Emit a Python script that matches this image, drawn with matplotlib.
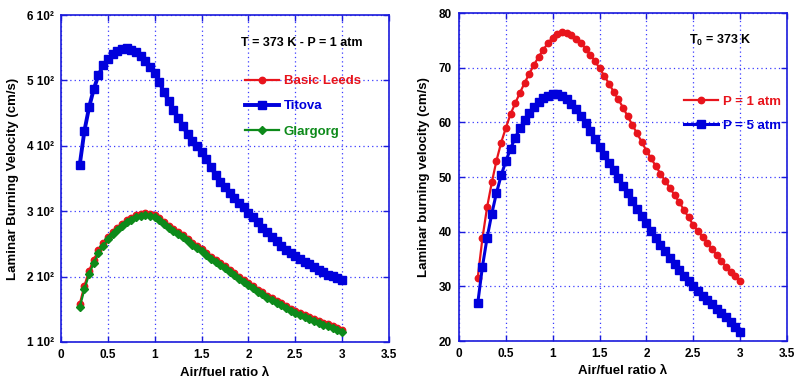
import matplotlib
matplotlib.use("Agg")
import matplotlib.pyplot as plt
import numpy as np

plt.rcParams['font.family'] = ['Liberation Sans', 'DejaVu Sans']
plt.rcParams['font.weight'] = 'bold'
plt.rcParams['mathtext.fontset'] = 'custom'
plt.rcParams['mathtext.rm'] = 'Liberation Sans:bold'
plt.rcParams['mathtext.it'] = 'Liberation Sans:bold'
plt.rcParams['mathtext.bf'] = 'Liberation Sans:bold'

# Air/fuel ratio lambda: 0.20 .. 3.00 step 0.05
lam = [0.20, 0.25, 0.30, 0.35, 0.40, 0.45, 0.50, 0.55, 0.60, 0.65,
       0.70, 0.75, 0.80, 0.85, 0.90, 0.95, 1.00, 1.05, 1.10, 1.15,
       1.20, 1.25, 1.30, 1.35, 1.40, 1.45, 1.50, 1.55, 1.60, 1.65,
       1.70, 1.75, 1.80, 1.85, 1.90, 1.95, 2.00, 2.05, 2.10, 2.15,
       2.20, 2.25, 2.30, 2.35, 2.40, 2.45, 2.50, 2.55, 2.60, 2.65,
       2.70, 2.75, 2.80, 2.85, 2.90, 2.95, 3.00]

# Left panel (T = 373 K, P = 1 atm)
basic_leeds = [158, 186, 209, 226, 240, 251, 261, 268, 275, 281,
               286, 290, 294, 296, 297, 296, 294, 290, 284, 278,
               273, 268, 263, 257, 252, 247, 242, 236, 230, 226,
               221, 216, 210, 205, 200, 195, 190, 185, 180, 176,
               171, 167, 163, 159, 155, 151, 147, 144, 141, 138,
               135, 132, 129, 127, 124, 121, 118]
titova = [371, 423, 459, 487, 508, 523, 532, 540, 545, 548,
          549, 547, 543, 537, 529, 521, 511, 497, 482, 468,
          455, 443, 430, 418, 408, 399, 390, 380, 368, 355,
          345, 337, 328, 320, 313, 306, 298, 291, 283, 275,
          268, 261, 254, 247, 241, 236, 231, 227, 223, 219,
          214, 210, 207, 203, 201, 198, 195]
glargorg = [153, 181, 204, 221, 236, 247, 257, 265, 272, 278,
            283, 287, 291, 293, 294, 293, 291, 287, 281, 275,
            270, 265, 260, 254, 249, 244, 239, 233, 227, 223,
            218, 213, 207, 202, 197, 192, 187, 182, 177, 173,
            168, 164, 160, 156, 152, 148, 144, 141, 138, 135,
            132, 129, 126, 124, 121, 118, 115]

# Right panel (T0 = 373 K)
p1_atm = [31.6, 38.8, 44.5, 49.0, 53.0, 56.3, 59.0, 61.5, 63.5, 65.4,
          67.2, 68.9, 70.5, 72.0, 73.3, 74.5, 75.5, 76.2, 76.5, 76.4,
          76.0, 75.3, 74.5, 73.5, 72.4, 71.2, 69.9, 68.5, 67.1, 65.6,
          64.2, 62.7, 61.1, 59.5, 58.0, 56.4, 54.8, 53.4, 52.0, 50.6,
          49.3, 48.0, 46.7, 45.4, 44.0, 42.6, 41.2, 40.1, 39.0, 37.9,
          36.8, 35.7, 34.6, 33.5, 32.6, 31.8, 31.0]
p5_atm = [26.9, 33.6, 38.9, 43.3, 47.1, 50.3, 52.9, 55.2, 57.2, 58.9,
          60.4, 61.7, 62.8, 63.7, 64.4, 64.9, 65.2, 65.1, 64.8, 64.2,
          63.4, 62.4, 61.2, 59.8, 58.4, 56.9, 55.4, 54.0, 52.6, 51.2,
          49.8, 48.4, 47.0, 45.6, 44.2, 42.8, 41.5, 40.2, 38.9, 37.6,
          36.4, 35.2, 34.0, 32.9, 31.9, 30.9, 30.0, 29.1, 28.3, 27.5,
          26.7, 25.9, 25.1, 24.3, 23.5, 22.6, 21.7]

x_ticks = [0, 0.5, 1, 1.5, 2, 2.5, 3, 3.5]
x_tick_labels = ['0', '0.5', '1', '1.5', '2', '2.5', '3', '3.5']
left_y_ticks = [100, 200, 300, 400, 500, 600]
left_y_labels = ['1 10\u00b2', '2 10\u00b2', '3 10\u00b2', '4 10\u00b2', '5 10\u00b2', '6 10\u00b2']
right_y_ticks = [20, 30, 40, 50, 60, 70, 80]

RED = '#e8141c'
BLUE = '#0000dc'
GREEN = '#0d8a1a'
AXC = '#1a1adc'

W, H = 796, 382
fig = plt.figure(figsize=(W / 100, H / 100), dpi=100)
axL = fig.add_axes([61 / W, 1 - 342 / H, (389 - 61) / W, (342 - 15) / H])
axR = fig.add_axes([459 / W, 1 - 341 / H, (787 - 459) / W, (341 - 13) / H])


def style(ax):
    for s in ax.spines.values():
        s.set_color(AXC)
        s.set_linewidth(1.2)
    ax.grid(True, color='#3a3aff', linestyle=(0, (1, 2.5)), linewidth=0.9)
    ax.set_axisbelow(True)
    ax.tick_params(direction='in', length=4, width=1, color=AXC,
                   labelsize=8.5, top=True, right=True, pad=5)
    for lab in ax.get_xticklabels() + ax.get_yticklabels():
        lab.set_fontweight('bold')


axL.plot(lam, basic_leeds, color=RED, lw=1.6, marker='o', ms=4.6, label='Basic Leeds', zorder=3)
axL.plot(lam, titova, color=BLUE, lw=2.8, marker='s', ms=5.6, label='Titova', zorder=4)
axL.plot(lam, glargorg, color=GREEN, lw=1.6, marker='D', ms=3.8, label='Glargorg', zorder=3)
axL.set_xlim(0, 3.5)
axL.set_ylim(100, 600)
axL.set_xticks(x_ticks)
axL.set_xticklabels(x_tick_labels)
axL.set_yticks(left_y_ticks)
axL.set_yticklabels(left_y_labels)
style(axL)
axL.set_xlabel('Air/fuel ratio \u03bb', fontsize=9.5, fontweight='bold', labelpad=4)
axL.set_ylabel('Laminar Burning Velocity (cm/s)', fontsize=9.5, fontweight='bold', labelpad=6)
axL.text(0.92, 0.915, 'T = 373 K - P = 1 atm', transform=axL.transAxes, ha='right',
         va='center', fontsize=9, fontweight='bold')
legL = axL.legend(loc='upper left', bbox_to_anchor=(0.545, 0.832), frameon=False,
                  fontsize=9.5, handlelength=2.6, handletextpad=0.35, labelspacing=0.97,
                  labelcolor='linecolor', borderaxespad=0)
for t in legL.get_texts():
    t.set_fontweight('bold')

axR.plot(lam, p1_atm, color=RED, lw=1.6, marker='o', ms=4.6, label='P = 1 atm', zorder=3)
axR.plot(lam, p5_atm, color=BLUE, lw=2.2, marker='s', ms=5.6, label='P = 5 atm', zorder=3)
axR.set_xlim(0, 3.5)
axR.set_ylim(20, 80)
axR.set_xticks(x_ticks)
axR.set_xticklabels(x_tick_labels)
axR.set_yticks(right_y_ticks)
style(axR)
axR.set_xlabel('Air/fuel ratio \u03bb', fontsize=9.5, fontweight='bold', labelpad=4)
axR.set_ylabel('Laminar burning velocity (cm/s)', fontsize=9.5, fontweight='bold', labelpad=6)
axR.text(0.70, 0.915, 'T$_0$ = 373 K', transform=axR.transAxes, ha='left',
         va='center', fontsize=9, fontweight='bold')
legR = axR.legend(loc='upper left', bbox_to_anchor=(0.67, 0.765), frameon=False,
                  fontsize=9.5, handlelength=2.6, handletextpad=0.35, labelspacing=0.93,
                  labelcolor='linecolor', borderaxespad=0)
for t in legR.get_texts():
    t.set_fontweight('bold')

fig.savefig('out.png', dpi=100)
